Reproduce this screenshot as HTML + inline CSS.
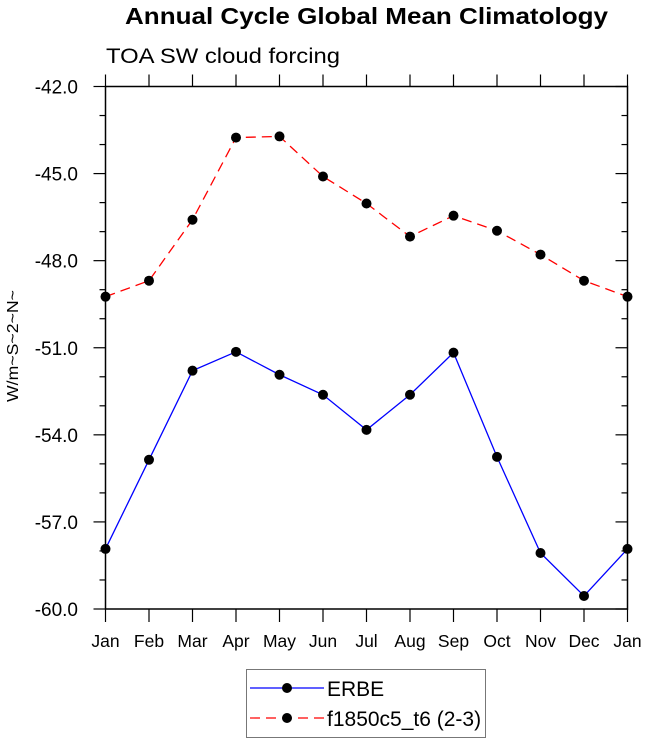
<!DOCTYPE html>
<html><head><meta charset="utf-8"><style>
body{margin:0;background:#fff}
svg text{font-family:"Liberation Sans",sans-serif}
</style></head><body>
<svg id="chart" width="647" height="744" xmlns="http://www.w3.org/2000/svg">
<text x="125" y="24" font-size="23" font-weight="bold" textLength="483" lengthAdjust="spacingAndGlyphs">Annual Cycle Global Mean Climatology</text>
<text x="106" y="63" font-size="21" textLength="234" lengthAdjust="spacingAndGlyphs">TOA SW cloud forcing</text>
<text transform="translate(18,346) rotate(-90)" text-anchor="middle" font-size="16" textLength="112" lengthAdjust="spacingAndGlyphs">W/m~S~2~N~</text>
<g id="axes"></g>
<g id="series"></g>
<g>
<rect x="246.5" y="669.5" width="239" height="68" fill="#fff" stroke="#777" stroke-width="1"/>
<line x1="250" y1="688" x2="324" y2="688" stroke="#00f" stroke-width="1.2"/>
<circle cx="287" cy="688" r="5" fill="#000"/>
<text x="327" y="696" font-size="21">ERBE</text>
<line x1="250" y1="718" x2="324" y2="718" stroke="#f00" stroke-width="1.2" stroke-dasharray="10,6"/>
<circle cx="287" cy="718" r="5" fill="#000"/>
<text x="327" y="726" font-size="21">f1850c5_t6 (2-3)</text>
</g>
</svg>
<script>
const months=["Jan","Feb","Mar","Apr","May","Jun","Jul","Aug","Sep","Oct","Nov","Dec","Jan"];
const erbe=[-57.93,-54.86,-51.79,-51.14,-51.93,-52.62,-53.83,-52.62,-51.17,-54.76,-58.07,-59.55,-57.93];
const model=[-49.24,-48.69,-46.59,-43.76,-43.72,-45.1,-46.03,-47.17,-46.45,-46.97,-47.79,-48.69,-49.24];
const yTicks=[-42,-45,-48,-51,-54,-57,-60];
const L=105.5,R=627.5,T=86.5,B=609;
const xs=i=>L+(R-L)*i/12;
const ys=v=>T+(B-T)*(-42-v)/18;
const NS="http://www.w3.org/2000/svg";
function mk(p,tag,a){const e=document.createElementNS(NS,tag);for(const k in a)e.setAttribute(k,a[k]);p.appendChild(e);return e;}
const ax=document.getElementById('axes');
const frame=mk(ax,'rect',{x:L,y:T,width:R-L,height:B-T,fill:'none',stroke:'#000','stroke-width':1.5});


for(let v=-42;v>=-60;v--){
  const y=ys(v),maj=yTicks.includes(v),len=maj?12:6;
  mk(ax,'line',{x1:L-len,y1:y,x2:L,y2:y,stroke:'#000','stroke-width':1.2});
  mk(ax,'line',{x1:R-len,y1:y,x2:R,y2:y,stroke:'#000','stroke-width':1.2});
}
yTicks.forEach(v=>{
  const t=mk(ax,'text',{x:78,y:ys(v)+7,'text-anchor':'end','font-size':19});
  t.textContent=v.toFixed(1);
  
  
});
months.forEach((m,i)=>{
  const x=xs(i);
  mk(ax,'line',{x1:x,y1:T-12,x2:x,y2:T,stroke:'#000','stroke-width':1.2});
  mk(ax,'line',{x1:x,y1:B,x2:x,y2:B+13,stroke:'#000','stroke-width':1.2});
  const t=mk(ax,'text',{x:x,y:647,'text-anchor':'middle','font-size':17.5});
  t.textContent=m;
  
  
});
const sg=document.getElementById('series');
function draw(arr,color,dash,name){
  const p=mk(sg,'polyline',{points:arr.map((v,i)=>xs(i)+','+ys(v)).join(' '),fill:'none',stroke:color,'stroke-width':1.3,'stroke-dasharray':dash});
  
  
  arr.forEach((v,i)=>{
    const c=mk(sg,'circle',{cx:xs(i),cy:ys(v),r:5,fill:'#000'});
    
    
  });
}
draw(model,'#f00','10,6','model');
draw(erbe,'#00f','none','erbe');
</script>
</body></html>
